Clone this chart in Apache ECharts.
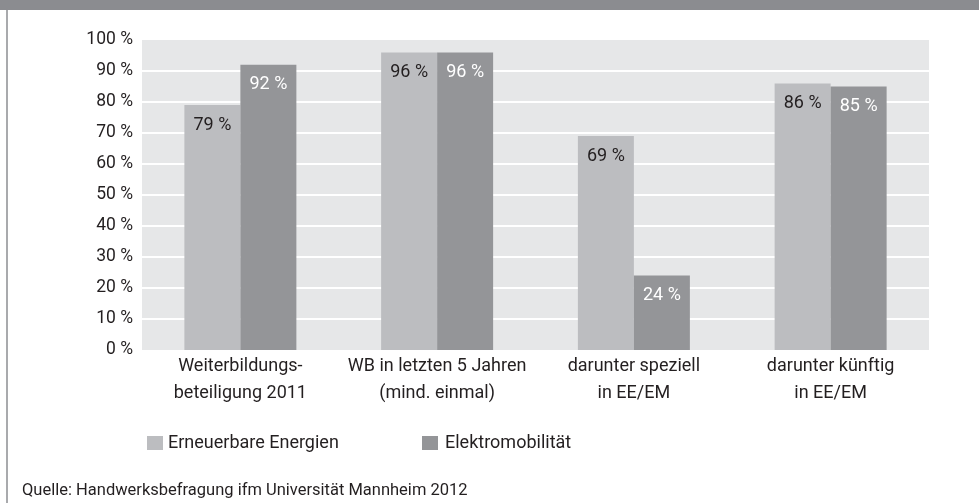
<!DOCTYPE html>
<html>
<head>
<meta charset="utf-8">
<script src="https://cdn.jsdelivr.net/npm/echarts@6/dist/echarts.min.js"></script>
<style>
  html, body { margin: 0; padding: 0; background: #fff; }
  #main { width: 979px; height: 503px; }
</style>
</head>
<body>
<div id="main"></div>
<script>
    // Daten
    var categories = ['Weiterbildungs-\nbeteiligung 2011', 'WB in letzten 5 Jahren\n(mind. einmal)', 'darunter speziell\nin EE/EM', 'darunter künftig\nin EE/EM'];
    var seriesNames = ['Erneuerbare Energien', 'Elektromobilität'];
    var erneuerbar = [79, 96, 69, 86];
    var elektro = [92, 96, 24, 85];
    var source = 'Quelle: Handwerksbefragung ifm Universität Mannheim 2012';

    var font = '"Liberation Sans Narrow", "Roboto", sans-serif';
    var textColor = '#231f20';

    var myChart = echarts.init(document.getElementById('main'));
    var option = {
        backgroundColor: '#ffffff',
        textStyle: { fontFamily: font },
        animation: false,
        grid: {
            left: 142,
            right: 50,
            top: 40,
            bottom: 153,
            show: true,
            backgroundColor: '#e6e7e8',
            borderWidth: 0
        },
        legend: [
            {
                data: [seriesNames[0]],
                left: 142,
                top: 429,
                itemWidth: 16,
                itemHeight: 14,
                icon: 'rect',
                textStyle: { fontFamily: font, fontSize: 18, color: textColor }
            },
            {
                data: [seriesNames[1]],
                left: 417,
                top: 429,
                itemWidth: 16,
                itemHeight: 14,
                icon: 'rect',
                textStyle: { fontFamily: font, fontSize: 18, color: textColor, padding: [0, 0, 0, 2] }
            }
        ],
        xAxis: {
            type: 'category',
            data: categories,
            axisLine: { show: false },
            axisTick: { show: false },
            axisLabel: {
                interval: 0,
                fontFamily: font,
                fontSize: 18,
                lineHeight: 27,
                color: textColor,
                margin: 3
            }
        },
        yAxis: {
            type: 'value',
            min: 0,
            max: 100,
            interval: 10,
            axisLine: { show: false },
            axisTick: { show: false },
            axisLabel: {
                formatter: '{value} %',
                fontFamily: font,
                fontSize: 17.5,
                color: textColor,
                margin: 9
            },
            splitLine: {
                showMinLine: false,
                showMaxLine: false,
                lineStyle: { color: '#ffffff', width: 2 }
            }
        },
        series: [
            {
                name: seriesNames[0],
                type: 'bar',
                data: erneuerbar,
                barWidth: 56,
                barGap: '0%',
                itemStyle: { color: '#bcbdc0' },
                label: {
                    show: true,
                    position: 'insideTop',
                    distance: 11,
                    formatter: '{c} %',
                    fontFamily: font,
                    fontSize: 18,
                    color: textColor
                }
            },
            {
                name: seriesNames[1],
                type: 'bar',
                data: elektro,
                barWidth: 56,
                barGap: '0%',
                itemStyle: { color: '#949598' },
                label: {
                    show: true,
                    position: 'insideTop',
                    distance: 11,
                    formatter: '{c} %',
                    fontFamily: font,
                    fontSize: 18,
                    color: '#ffffff'
                }
            }
        ],
        graphic: [
            { type: 'rect', left: 0, top: 0, shape: { width: 979, height: 10 }, style: { fill: '#8b8c90' } },
            { type: 'rect', left: 6, top: 10, shape: { width: 2, height: 493 }, style: { fill: '#a9aaad' } },
            {
                type: 'text',
                left: 22,
                top: 482,
                style: { text: source, fontFamily: font, fontSize: 16.5, fill: textColor }
            }
        ]
    };

    myChart.setOption(option);
</script>
</body>
</html>
